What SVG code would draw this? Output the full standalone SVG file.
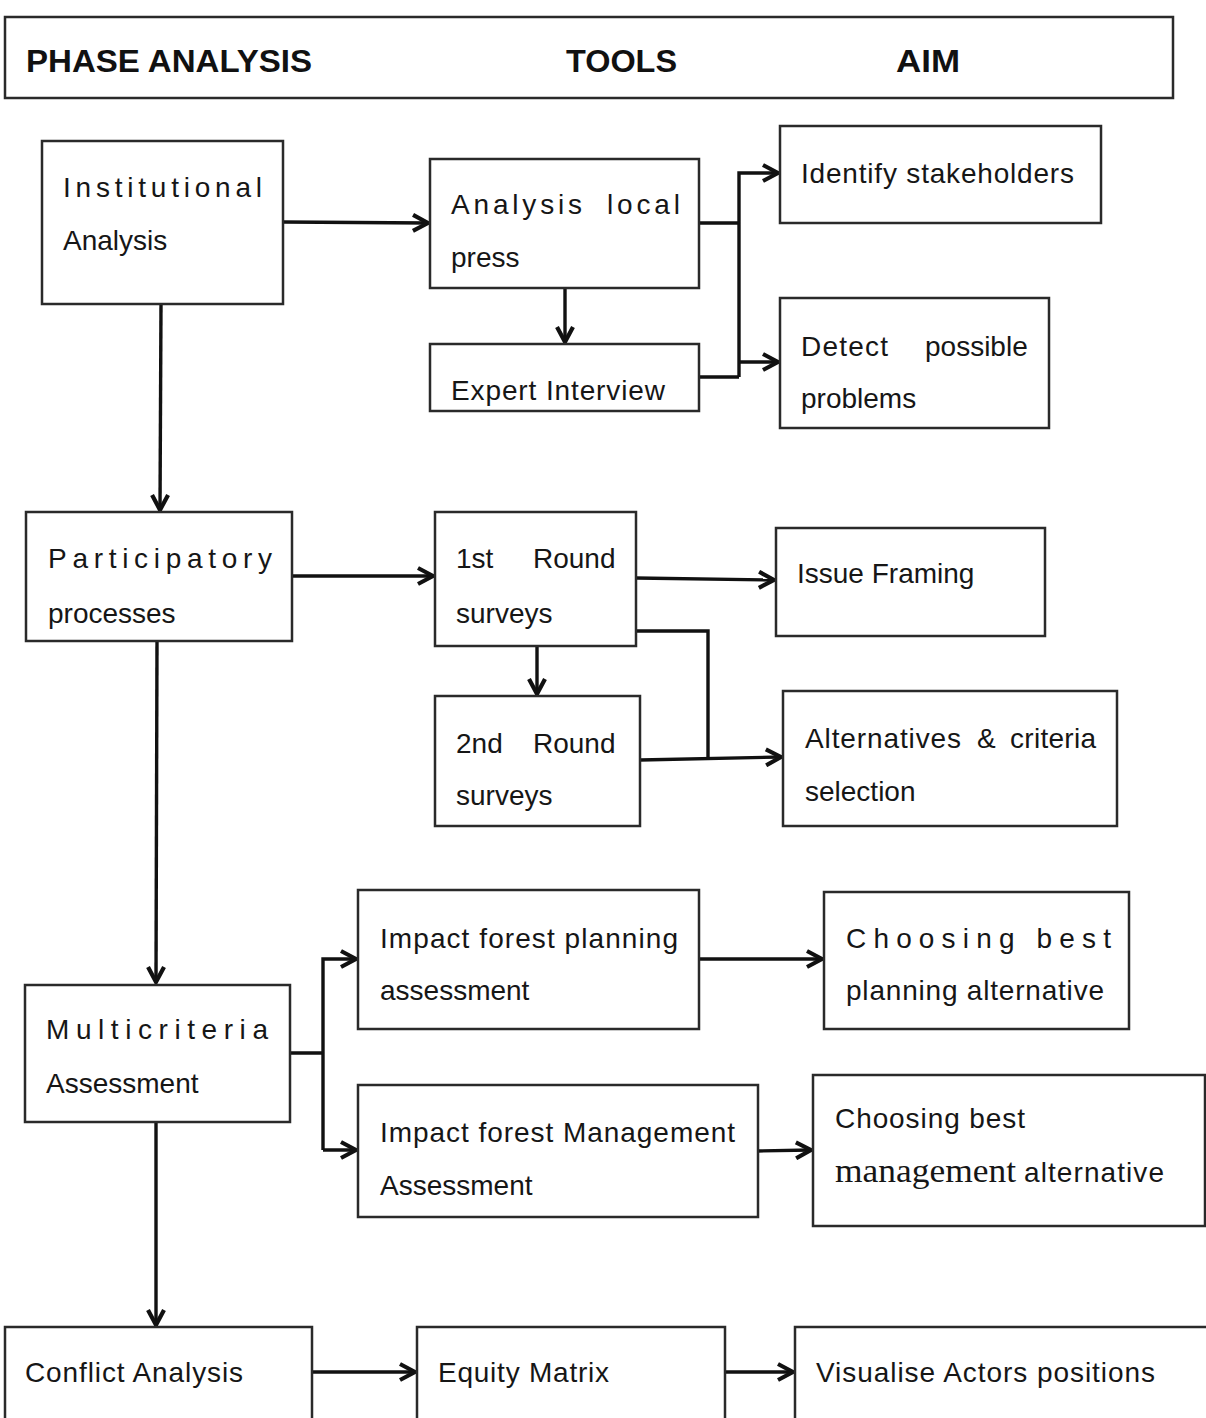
<svg xmlns="http://www.w3.org/2000/svg" width="1206" height="1418" viewBox="0 0 1206 1418">
<style>
.box{fill:#fff;stroke:#2a2a2a;stroke-width:2.5}
.t{font-family:"Liberation Sans",Arial,sans-serif;font-size:28px;fill:#161616}
.h{font-family:"Liberation Sans",Arial,sans-serif;font-size:32px;font-weight:bold;fill:#111}
.s{font-family:"Liberation Serif","Times New Roman",serif;font-size:33px;fill:#161616}
.c{fill:none;stroke:#111;stroke-width:3.4}
</style>
<defs>
<marker id="ah" markerUnits="userSpaceOnUse" viewBox="0 0 20 20" markerWidth="20" markerHeight="20" refX="18" refY="10" orient="auto">
<path d="M3,2 L18,10 L3,18" fill="none" stroke="#111" stroke-width="4.2" stroke-linejoin="miter"/>
</marker>
</defs>
<rect width="1206" height="1418" fill="#fff"/>

<g id="header">
<rect class="box" x="5" y="17" width="1168" height="81"/>
<text class="h" x="26" y="72" textLength="286" lengthAdjust="spacingAndGlyphs">PHASE ANALYSIS</text>
<text class="h" x="566" y="72" textLength="111" lengthAdjust="spacingAndGlyphs">TOOLS</text>
<text class="h" x="896" y="72" textLength="64" lengthAdjust="spacingAndGlyphs">AIM</text>
</g>

<g id="connectors">
<path class="c" d="M283,222 L428,223" marker-end="url(#ah)"/>
<path class="c" d="M565,288 L565,342" marker-end="url(#ah)"/>
<path class="c" d="M699,223 L739,223 M699,377 L739,377 M739,377 L739,173 L778,173" marker-end="url(#ah)"/>
<path class="c" d="M739,362 L778,362" marker-end="url(#ah)"/>
<path class="c" d="M161,304 L160,510" marker-end="url(#ah)"/>
<path class="c" d="M292,576 L433,576" marker-end="url(#ah)"/>
<path class="c" d="M537,646 L537,694" marker-end="url(#ah)"/>
<path class="c" d="M636,578 L774,580" marker-end="url(#ah)"/>
<path class="c" d="M636,631 L708,631 L708,758"/>
<path class="c" d="M640,760 L781,757" marker-end="url(#ah)"/>
<path class="c" d="M157,641 L156,982" marker-end="url(#ah)"/>
<path class="c" d="M290,1053 L323,1053 M323,1150 L323,959 L356,959" marker-end="url(#ah)"/>
<path class="c" d="M323,1150 L356,1150" marker-end="url(#ah)"/>
<path class="c" d="M699,959 L822,959" marker-end="url(#ah)"/>
<path class="c" d="M758,1151 L811,1150" marker-end="url(#ah)"/>
<path class="c" d="M156,1122 L156,1325" marker-end="url(#ah)"/>
<path class="c" d="M312,1372 L415,1372" marker-end="url(#ah)"/>
<path class="c" d="M725,1372 L793,1372" marker-end="url(#ah)"/>
</g>

<g id="institutional">
<rect class="box" x="42" y="141" width="241" height="163"/>
<text class="t" x="63" y="197" textLength="199">Institutional</text>
<text class="t" x="63" y="250">Analysis</text>
</g>
<g id="analysis-press">
<rect class="box" x="430" y="159" width="269" height="129"/>
<text class="t" y="214"><tspan x="451" textLength="131">Analysis</tspan><tspan x="607" textLength="73">local</tspan></text>
<text class="t" x="451" y="267">press</text>
</g>
<g id="expert-interview">
<rect class="box" x="430" y="344" width="269" height="67"/>
<text class="t" x="451" y="400" textLength="214">Expert Interview</text>
</g>
<g id="identify-stakeholders">
<rect class="box" x="780" y="126" width="321" height="97"/>
<text class="t" x="801" y="183" textLength="273">Identify stakeholders</text>
</g>
<g id="detect-problems">
<rect class="box" x="780" y="298" width="269" height="130"/>
<text class="t" y="356"><tspan x="801" textLength="87">Detect</tspan><tspan x="925">possible</tspan></text>
<text class="t" x="801" y="408">problems</text>
</g>

<g id="participatory">
<rect class="box" x="26" y="512" width="266" height="129"/>
<text class="t" x="48" y="568" textLength="224">Participatory</text>
<text class="t" x="48" y="623">processes</text>
</g>
<g id="first-round">
<rect class="box" x="435" y="512" width="201" height="134"/>
<text class="t" y="568"><tspan x="456">1st</tspan><tspan x="533">Round</tspan></text>
<text class="t" x="456" y="623">surveys</text>
</g>
<g id="second-round">
<rect class="box" x="435" y="696" width="205" height="130"/>
<text class="t" y="753"><tspan x="456">2nd</tspan><tspan x="533">Round</tspan></text>
<text class="t" x="456" y="805">surveys</text>
</g>
<g id="issue-framing">
<rect class="box" x="776" y="528" width="269" height="108"/>
<text class="t" x="797" y="583">Issue Framing</text>
</g>
<g id="alternatives-criteria">
<rect class="box" x="783" y="691" width="334" height="135"/>
<text class="t" y="748"><tspan x="805" textLength="156">Alternatives</tspan><tspan x="977">&amp;</tspan><tspan x="1010" textLength="86">criteria</tspan></text>
<text class="t" x="805" y="801">selection</text>
</g>

<g id="multicriteria">
<rect class="box" x="25" y="985" width="265" height="137"/>
<text class="t" x="46" y="1039" textLength="222">Multicriteria</text>
<text class="t" x="46" y="1093">Assessment</text>
</g>
<g id="impact-planning">
<rect class="box" x="358" y="890" width="341" height="139"/>
<text class="t" x="380" y="948" textLength="298">Impact forest planning</text>
<text class="t" x="380" y="1000">assessment</text>
</g>
<g id="impact-management">
<rect class="box" x="358" y="1085" width="400" height="132"/>
<text class="t" x="380" y="1142" textLength="355">Impact forest Management</text>
<text class="t" x="380" y="1195">Assessment</text>
</g>
<g id="choosing-planning">
<rect class="box" x="824" y="892" width="305" height="137"/>
<text class="t" x="846" y="948" textLength="265">Choosing  best</text>
<text class="t" x="846" y="1000" textLength="258">planning alternative</text>
</g>
<g id="choosing-management">
<rect class="box" x="813" y="1075" width="392" height="151"/>
<text class="t" x="835" y="1128" textLength="190">Choosing best</text>
<text y="1182"><tspan class="s" x="835" textLength="181" lengthAdjust="spacingAndGlyphs">management</tspan><tspan class="t" x="1024" textLength="140">alternative</tspan></text>
</g>

<g id="conflict-analysis">
<rect class="box" x="5" y="1327" width="307" height="120"/>
<text class="t" x="25" y="1382" textLength="218">Conflict Analysis</text>
</g>
<g id="equity-matrix">
<rect class="box" x="417" y="1327" width="308" height="120"/>
<text class="t" x="438" y="1382" textLength="171">Equity Matrix</text>
</g>
<g id="visualise-actors">
<rect class="box" x="795" y="1327" width="430" height="120"/>
<text class="t" x="816" y="1382" textLength="339">Visualise Actors positions</text>
</g>
</svg>
